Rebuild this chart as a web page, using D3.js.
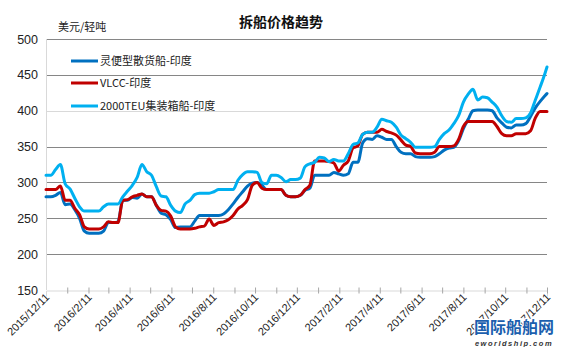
<!DOCTYPE html>
<html><head><meta charset="utf-8">
<script src="https://cdn.jsdelivr.net/npm/d3@7"></script>
<style>body{margin:0;background:#fff;} svg{display:block;font-family:"Liberation Sans",Arial,sans-serif;}</style>
</head><body>
<svg id="c" width="563" height="347"></svg>
<script>
const title = "拆船价格趋势";
const unitLabel = "美元/轻吨";
const seriesNames = ["灵便型散货船-印度", "VLCC-印度", "2000TEU集装箱船-印度"];
const seriesColors = ["#0070C0", "#C00000", "#00B0F0"];
const yTicks = [150, 200, 250, 300, 350, 400, 450, 500];
const xTickLabels = ["2015/12/11","2016/2/11","2016/4/11","2016/6/11","2016/8/11","2016/10/11","2016/12/11","2017/2/11","2017/4/11","2017/6/11","2017/8/11","2017/10/11","2017/12/11"];

// weekly observation dates (2015-12-11 onwards) plus final 2017-12-11
const parse = d3.timeParse("%Y-%m-%d");
const startDate = parse("2015-12-11");
const dates = d3.range(105).map(i => d3.timeDay.offset(startDate, i * 7)).concat([parse("2017-12-11")]);

const handysize = [280,280,282,286,269,270,262,250,232,229,229,229,232,244,244,245,275,275,279,278,
284,280,280,268,257,255,248,237,238,238,238,246,254,254,254,254,254,256,262,270,
279,287,295,299,300,296,290,290,290,290,282,280,280,282,289,292,310,310,310,310,
314,312,310,312,328,328,355,361,360,365,363,360,360,350,342,340,340,336,335,335,
335,336,340,345,348,349,358,375,388,400,401,401,401,400,390,383,377,376,380,380,
382,392,404,413,421,424];
const vlcc = [290,290,290,295,275,275,264,255,238,235,235,235,238,245,244,244,275,276,280,282,
284,280,280,268,261,260,253,238,235,235,235,236,238,239,249,240,244,245,248,254,
263,268,276,296,300,292,290,290,290,290,282,280,280,282,290,296,330,330,330,329,
327,316,324,330,348,351,367,370,370,370,374,371,369,366,359,352,350,341,340,340,
340,342,350,350,350,351,360,378,385,385,385,385,385,385,378,368,365,365,368,368,
368,372,390,399,399,399];
const teu2000 = [310,310,318,325,298,291,278,266,260,260,260,260,266,270,270,270,280,288,296,307,
325,315,310,294,281,280,268,260,258,270,275,283,285,285,285,287,290,290,290,290,
303,311,315,315,314,300,298,310,310,307,301,304,304,306,322,326,328,335,334,329,
332,330,330,340,353,355,367,370,370,377,388,386,384,377,366,361,356,349,349,349,
349,350,360,368,373,382,393,412,423,430,415,419,418,412,405,393,385,384,389,389,
390,397,415,433,452,461];
const seriesValues = [handysize, vlcc, teu2000];

const svg = d3.select("#c");
const m = {l: 46, r: 547, t: 39, b: 290};
const x = d3.scaleTime().domain([parse("2015-12-11"), parse("2017-12-11")]).range([m.l, m.r]);
const y = d3.scaleLinear().domain([150, 500]).range([m.b, m.t]);

// gridlines
svg.append("g").selectAll("line").data(yTicks.filter(v => v > 150)).join("line")
  .attr("x1", m.l).attr("x2", m.r)
  .attr("y1", d => Math.round(y(d)) + 0.5).attr("y2", d => Math.round(y(d)) + 0.5)
  .attr("stroke", d => d === 400 ? "#d9d9d9" : "#868686").attr("stroke-width", 1);

// left axis line
svg.append("line").attr("x1", m.l + 0.5).attr("x2", m.l + 0.5).attr("y1", m.t).attr("y2", m.b)
  .attr("stroke", "#d9d9d9");

// y tick labels
svg.append("g").selectAll("text").data(yTicks).join("text")
  .attr("x", 38).attr("y", d => y(d) + 4.5).attr("text-anchor", "end")
  .attr("font-size", 12.5).attr("fill", "#222").text(d => d);

// x axis
const monthTicks = d3.timeMonth.range(parse("2015-12-11"), parse("2017-12-12"))
  .map(d => new Date(d.getFullYear(), d.getMonth(), 11));
const xAxis = d3.axisBottom(x).tickValues(monthTicks).tickSize(6).tickFormat("");
const gx = svg.append("g").attr("transform", `translate(0,${Math.round(y(150)) - 2.5})`).call(xAxis);
gx.select(".domain").attr("stroke", "#d9d9d9").attr("transform", "translate(0,3)");
gx.selectAll(".tick line").attr("stroke", "#a6a6a6");

const fmt = d3.timeFormat("%Y/%-m/%-d");
const labelDates = xTickLabels.map(s => d3.timeParse("%Y/%m/%d")(s));
svg.append("g").selectAll("text").data(labelDates).join("text")
  .attr("transform", d => `translate(${x(d) + 4},${m.b + 8}) rotate(-45)`)
  .attr("text-anchor", "end").attr("font-size", 11).attr("fill", "#222")
  .text(d => fmt(d));

// lines
const line = d3.line().x((d, i) => x(dates[i])).y(d => y(d)).curve(d3.curveMonotoneX);
seriesValues.forEach((vals, k) => {
  svg.append("path").datum(vals).attr("d", line)
    .attr("fill", "none").attr("stroke", seriesColors[k]).attr("stroke-width", 3)
    .attr("stroke-linejoin", "round").attr("stroke-linecap", "round");
});

// title & unit
svg.append("text").attr("x", 281).attr("y", 27).attr("text-anchor", "middle")
  .attr("font-size", 14).attr("font-weight", "bold").attr("fill", "#111")
  .attr("font-family", "'Noto Sans CJK SC', sans-serif").text(title);
svg.append("text").attr("x", 58).attr("y", 31).attr("font-size", 11).attr("fill", "#222")
  .attr("font-family", "'Noto Sans CJK SC', sans-serif").text(unitLabel);

// legend
const legY = [61, 83, 106];
seriesNames.forEach((n, k) => {
  svg.append("line").attr("x1", 71).attr("x2", 98).attr("y1", legY[k]).attr("y2", legY[k])
    .attr("stroke", seriesColors[k]).attr("stroke-width", 3);
  svg.append("text").attr("x", 100).attr("y", legY[k] + 4).attr("font-size", 11).attr("fill", "#222")
    .attr("font-family", "'Noto Sans CJK SC', sans-serif").text(n);
});

// watermark
svg.append("text").attr("x", 514).attr("y", 333).attr("text-anchor", "middle")
  .attr("font-size", 16).attr("font-weight", "bold").attr("fill", "#1c5fae")
  .attr("stroke", "#fff").attr("stroke-width", 2).attr("paint-order", "stroke")
  .attr("font-family", "'Noto Sans CJK SC', sans-serif").text("国际船舶网");
svg.append("text").attr("x", 514).attr("y", 346).attr("text-anchor", "middle")
  .attr("font-size", 7.5).attr("font-weight", "bold").attr("font-style", "italic").attr("fill", "#333")
  .attr("letter-spacing", 1.5).text("eworldship.com");
</script>
</body></html>
